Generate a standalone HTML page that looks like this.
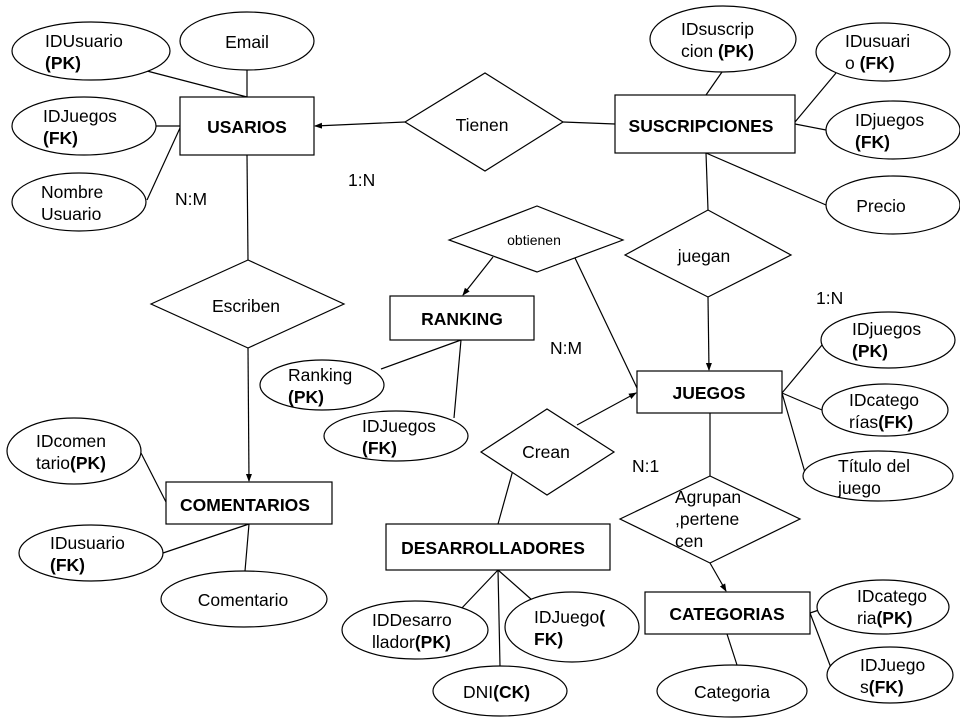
<!DOCTYPE html>
<html><head><meta charset="utf-8"><style>
html,body{margin:0;padding:0;background:#fff;}
svg{display:block;}
text{font-family:"Liberation Sans",Arial,sans-serif;font-size:17.5px;fill:#000;}
.b{font-weight:bold;}
</style></head><body>
<svg width="960" height="720" viewBox="0 0 960 720" xmlns="http://www.w3.org/2000/svg">
<defs><marker id="a" markerWidth="8" markerHeight="8" refX="7" refY="4" orient="auto" markerUnits="userSpaceOnUse"><path d="M0,1 L8,4 L0,7 Z" fill="#000"/></marker></defs>
<g stroke="#000" stroke-width="1.2" fill="none">
<line x1="147" y1="71" x2="247" y2="97"/>
<line x1="247" y1="70" x2="247" y2="97"/>
<line x1="156" y1="126" x2="180" y2="126"/>
<line x1="147" y1="200" x2="180" y2="128"/>
<line x1="405" y1="122" x2="315" y2="126" marker-end="url(#a)"/>
<line x1="563" y1="122" x2="615" y2="124"/>
<line x1="722" y1="72" x2="706" y2="95"/>
<line x1="836" y1="73" x2="795" y2="122"/>
<line x1="826" y1="130" x2="795" y2="124"/>
<line x1="826" y1="205" x2="706" y2="153"/>
<line x1="706" y1="153" x2="708" y2="210"/>
<line x1="708" y1="297" x2="709" y2="370" marker-end="url(#a)"/>
<line x1="247" y1="155" x2="248" y2="260"/>
<line x1="248" y1="348" x2="249" y2="481" marker-end="url(#a)"/>
<line x1="493" y1="257" x2="463" y2="295" marker-end="url(#a)"/>
<line x1="575" y1="258" x2="637" y2="388"/>
<line x1="577" y1="425" x2="636" y2="393" marker-end="url(#a)"/>
<line x1="513" y1="470" x2="498" y2="524"/>
<line x1="461" y1="340" x2="381" y2="369"/>
<line x1="461" y1="340" x2="454" y2="418"/>
<line x1="782" y1="393" x2="822" y2="345"/>
<line x1="782" y1="393" x2="822" y2="410"/>
<line x1="782" y1="393" x2="806" y2="476"/>
<line x1="710" y1="413" x2="710" y2="476"/>
<line x1="710" y1="563" x2="726" y2="591" marker-end="url(#a)"/>
<line x1="810" y1="613" x2="828" y2="607"/>
<line x1="810" y1="613" x2="833" y2="673"/>
<line x1="727" y1="634" x2="737" y2="665"/>
<line x1="498" y1="570" x2="460" y2="610"/>
<line x1="498" y1="570" x2="500" y2="666"/>
<line x1="498" y1="570" x2="532" y2="600"/>
<line x1="141" y1="453" x2="166" y2="502"/>
<line x1="163" y1="553" x2="249" y2="524"/>
<line x1="245" y1="571" x2="249" y2="524"/>
</g>
<g stroke="#000" stroke-width="1.2" fill="#fff">
<rect x="180" y="97" width="134" height="58"/>
<rect x="615" y="95" width="180" height="58"/>
<rect x="390" y="296" width="144" height="44"/>
<rect x="637" y="371" width="145" height="42"/>
<rect x="166" y="482" width="166" height="42"/>
<rect x="386" y="524" width="224" height="46"/>
<rect x="645" y="592" width="165" height="42"/>
<polygon points="405,122 485,73 563,122 485,171"/>
<polygon points="151,304 248,260 344,304 248,348"/>
<polygon points="449,240 537,206 623,240 537,272"/>
<polygon points="625,255 708,210 791,255 708,297"/>
<polygon points="481,452 547,409 614,452 547,495"/>
<polygon points="620,519 710,476 800,519 710,563"/>
<ellipse cx="91" cy="51" rx="79" ry="29"/>
<ellipse cx="247" cy="41" rx="67" ry="29"/>
<ellipse cx="84" cy="126" rx="72" ry="29"/>
<ellipse cx="79" cy="202" rx="67" ry="29"/>
<ellipse cx="723" cy="39" rx="73" ry="33"/>
<ellipse cx="883" cy="52" rx="67" ry="29"/>
<ellipse cx="893" cy="130" rx="67" ry="29"/>
<ellipse cx="893" cy="205" rx="67" ry="29"/>
<ellipse cx="888" cy="340" rx="67" ry="28"/>
<ellipse cx="885" cy="410" rx="63" ry="26"/>
<ellipse cx="878" cy="476" rx="75" ry="25"/>
<ellipse cx="322" cy="385" rx="62" ry="25"/>
<ellipse cx="396" cy="436" rx="72" ry="25"/>
<ellipse cx="74" cy="451" rx="67" ry="33"/>
<ellipse cx="91" cy="553" rx="72" ry="28"/>
<ellipse cx="244" cy="599" rx="83" ry="28"/>
<ellipse cx="415" cy="630" rx="73" ry="29"/>
<ellipse cx="572" cy="627" rx="67" ry="35"/>
<ellipse cx="500" cy="691" rx="67" ry="25"/>
<ellipse cx="883" cy="607" rx="66" ry="27"/>
<ellipse cx="890" cy="675" rx="63" ry="28"/>
<ellipse cx="732" cy="691" rx="75" ry="26"/>
</g>
<g text-anchor="middle">
<text class="b" x="247" y="133">USARIOS</text>
<text class="b" x="701" y="132">SUSCRIPCIONES</text>
<text class="b" x="462" y="325">RANKING</text>
<text class="b" x="709" y="399">JUEGOS</text>
<text class="b" x="245" y="511">COMENTARIOS</text>
<text class="b" x="493" y="554">DESARROLLADORES</text>
<text class="b" x="727" y="620">CATEGORIAS</text>
<text x="482" y="131">Tienen</text>
<text x="246" y="312">Escriben</text>
<text x="534" y="245" style="font-size:14px">obtienen</text>
<text x="704" y="262">juegan</text>
<text x="546" y="458">Crean</text>
<text x="247" y="48">Email</text>
<text x="881" y="212">Precio</text>
<text x="243" y="606">Comentario</text>
<text x="732" y="698">Categoria</text>
</g>
<g>
<text x="45" y="47">IDUsuario</text><text x="45" y="69" class="b">(PK)</text>
<text x="43" y="122">IDJuegos</text><text x="43" y="144" class="b">(FK)</text>
<text x="41" y="198">Nombre</text><text x="41" y="220">Usuario</text>
<text x="681" y="35">IDsuscrip</text><text x="681" y="57">cion <tspan class="b">(PK)</tspan></text>
<text x="845" y="47">IDusuari</text><text x="845" y="69">o <tspan class="b">(FK)</tspan></text>
<text x="855" y="126">IDjuegos</text><text x="855" y="148" class="b">(FK)</text>
<text x="852" y="335">IDjuegos</text><text x="852" y="357" class="b">(PK)</text>
<text x="849" y="406">IDcatego</text><text x="849" y="428">rías<tspan class="b">(FK)</tspan></text>
<text x="838" y="472">Título del</text><text x="838" y="494">juego</text>
<text x="288" y="381">Ranking</text><text x="288" y="403" class="b">(PK)</text>
<text x="362" y="432">IDJuegos</text><text x="362" y="454" class="b">(FK)</text>
<text x="36" y="447">IDcomen</text><text x="36" y="469">tario<tspan class="b">(PK)</tspan></text>
<text x="50" y="549">IDusuario</text><text x="50" y="571" class="b">(FK)</text>
<text x="372" y="626">IDDesarro</text><text x="372" y="648">llador<tspan class="b">(PK)</tspan></text>
<text x="534" y="623">IDJuego<tspan class="b">(</tspan></text><text x="534" y="645" class="b">FK)</text>
<text x="463" y="698">DNI<tspan class="b">(CK)</tspan></text>
<text x="857" y="602">IDcatego</text><text x="857" y="624">ria<tspan class="b">(PK)</tspan></text>
<text x="860" y="671">IDJuego</text><text x="860" y="693">s<tspan class="b">(FK)</tspan></text>
<text x="675" y="503">Agrupan</text><text x="675" y="525">,pertene</text><text x="675" y="547">cen</text>
<text x="348" y="186">1:N</text>
<text x="175" y="205">N:M</text>
<text x="550" y="354">N:M</text>
<text x="816" y="304">1:N</text>
<text x="632" y="472">N:1</text>
</g>
</svg>
</body></html>
